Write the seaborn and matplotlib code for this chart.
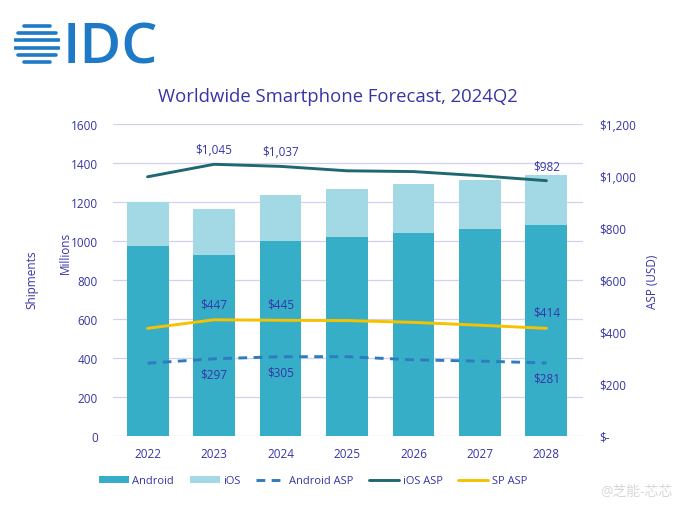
import numpy as np
import pandas as pd
import matplotlib
matplotlib.use("Agg")
import matplotlib.pyplot as plt
import seaborn as sns

years = ["2022", "2023", "2024", "2025", "2026", "2027", "2028"]
android = [976, 930, 998, 1019, 1039, 1060, 1080]
total = [1200, 1162, 1236, 1265, 1292, 1313, 1338]
android_asp = [280, 297, 305, 305, 293, 288, 281]
ios_asp = [997, 1045, 1037, 1020, 1017, 1001, 982]
sp_asp = [414, 447, 445, 444, 437, 426, 414]

left_ticks = [0, 200, 400, 600, 800, 1000, 1200, 1400, 1600]
right_ticks = [0, 200, 400, 600, 800, 1000, 1200]
right_labels = ["$-", "$200", "$400", "$600", "$800", "$1,000", "$1,200"]

labels_ios = {1: "$1,045", 2: "$1,037", 6: "$982"}
labels_sp = {1: "$447", 2: "$445", 6: "$414"}
labels_and = {1: "$297", 2: "$305", 6: "$281"}

C_AND = "#36AEC8"
C_IOS = "#A2D9E5"
C_AASP = "#2E7CC0"
C_IASP = "#1F6872"
C_SP = "#F5C200"
TXT = "#3535A8"
GRID = "#D3D1F0"

sns.set_theme(style="white")
plt.rcParams["font.family"] = ["Open Sans", "Noto Sans CJK SC", "DejaVu Sans"]

fig = plt.figure(figsize=(6.9, 5.1), dpi=100)
ax = fig.add_axes([113/690, 1-437/510, (583-113)/690, (437-125)/510])

df = pd.DataFrame({"year": years, "android": android, "total": total})
sns.barplot(data=df, x="year", y="total", color=C_IOS, saturation=1, width=0.63, ax=ax,
            zorder=2, linewidth=0, edgecolor="none")
sns.barplot(data=df, x="year", y="android", color=C_AND, saturation=1, width=0.63, ax=ax,
            zorder=3, linewidth=0, edgecolor="none")

ax.set_ylim(0, 1600)
ax.set_xlim(-0.52, 6.55)
ax.set_yticks(left_ticks)
ax.set_yticklabels([str(t) for t in left_ticks])
ax.grid(axis="y", color=GRID, linewidth=0.9, zorder=0)
ax.set_axisbelow(True)
for s in ax.spines.values():
    s.set_visible(False)
ax.tick_params(axis="both", length=0, labelcolor=TXT, labelsize=8.5)
ax.tick_params(axis="y", pad=11)
ax.tick_params(axis="x", pad=8)
ax.set_xlabel("")
ax.set_ylabel("")

ax2 = ax.twinx()
pos = list(range(len(years)))
lf = pd.DataFrame({"x": pos, "a": android_asp, "i": ios_asp, "s": sp_asp})
sns.lineplot(data=lf, x="x", y="a", ax=ax2, color=C_AASP, linewidth=2.1, linestyle=(0, (3, 2.2)))
sns.lineplot(data=lf, x="x", y="i", ax=ax2, color=C_IASP, linewidth=2.1)
sns.lineplot(data=lf, x="x", y="s", ax=ax2, color=C_SP, linewidth=2.1)
ax2.set_ylim(0, 1200)
ax2.set_xlim(-0.52, 6.55)
ax2.set_yticks(right_ticks)
ax2.set_yticklabels(right_labels)
ax2.tick_params(axis="y", length=0, labelcolor=TXT, labelsize=8.5, pad=12)
for s in ax2.spines.values():
    s.set_visible(False)
ax2.set_ylabel("")
ax2.set_xlabel("")
ax2.grid(False)

for i, t in labels_ios.items():
    ax2.annotate(t, (i, ios_asp[i]), xytext=(0, 6), textcoords="offset points",
                 ha="center", va="bottom", color=TXT, fontsize=8.5)
for i, t in labels_sp.items():
    ax2.annotate(t, (i, sp_asp[i]), xytext=(0, 7), textcoords="offset points",
                 ha="center", va="bottom", color=TXT, fontsize=8.5)
for i, t in labels_and.items():
    ax2.annotate(t, (i, android_asp[i]), xytext=(0, -6), textcoords="offset points",
                 ha="center", va="top", color=TXT, fontsize=8.5)

fig.text(338/690, 1-97/510, "Worldwide Smartphone Forecast, 2024Q2", ha="center", va="center",
         color=TXT, fontsize=13.3)
fig.text(32/690, 1-280/510, "Shipments", rotation=90, ha="center", va="center", color=TXT, fontsize=8.5)
fig.text(65/690, 1-253/510, "Millions", rotation=90, ha="center", va="center", color=TXT, fontsize=8.5)
fig.text(652/690, 1-282/510, "ASP (USD)", rotation=90, ha="center", va="center", color=TXT, fontsize=8.5)

from matplotlib.patches import Patch
from matplotlib.lines import Line2D
handles = [
    Patch(facecolor=C_AND, edgecolor="none"),
    Patch(facecolor=C_IOS, edgecolor="none"),
    Line2D([], [], color=C_AASP, linewidth=2.1, linestyle=(0, (3, 2.2))),
    Line2D([], [], color=C_IASP, linewidth=2.1),
    Line2D([], [], color=C_SP, linewidth=2.1),
]
names = ["Android", "iOS", "Android ASP", "iOS ASP", "SP ASP"]
leg = fig.legend(handles, names, loc="center", bbox_to_anchor=(313/690, 1-482/510), ncol=5,
                 frameon=False, fontsize=8, handlelength=2.7, handleheight=0.5,
                 columnspacing=1.4, handletextpad=0.3)
for t in leg.get_texts():
    t.set_color(TXT)

# IDC logo
lax = fig.add_axes([14/690, 1-68/510, 46/690, 46/510])
lax.set_xlim(-1.05, 1.05)
lax.set_ylim(-1.05, 1.05)
lax.axis("off")
LOGO = "#1E79C6"
for yy in [0.8, 0.48, 0.16, -0.16, -0.48, -0.8]:
    half = np.sqrt(max(1 - yy**2, 0))
    lax.plot([-half, half], [yy, yy], color=LOGO, linewidth=2.6, solid_capstyle="round")
fig.text(63/690, 1-49/510, "IDC", ha="left", va="center", color=LOGO, fontsize=41,
         fontweight="semibold")

fig.text(600/690, 1-492/510, "@芝能-芯芯", ha="left", va="center", color="#D8D8D8", fontsize=10)

fig.savefig("out.png", dpi=100)
